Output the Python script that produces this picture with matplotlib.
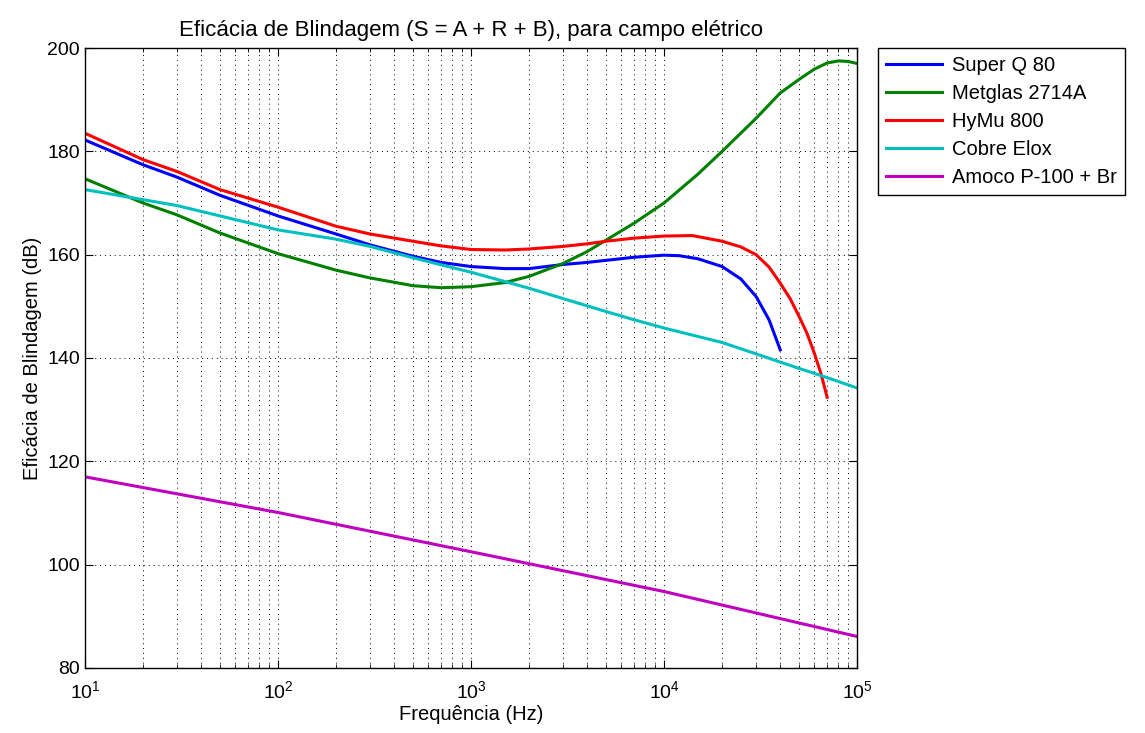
import matplotlib
matplotlib.use('Agg')
import matplotlib.pyplot as plt
from matplotlib.ticker import LogLocator, NullFormatter, MultipleLocator

plt.rcParams['font.family'] = ['Liberation Sans', 'DejaVu Sans']

# frequencias (Hz) e eficacia (dB)
f_superq = [10, 20, 30, 50, 100, 200, 300, 500, 700, 1000, 1500, 2000, 3000, 4000,
            5000, 7000, 10000, 12000, 15000, 20000, 25000, 30000, 35000, 40000]
s_superq = [182.2, 177.4, 175.0, 171.5, 167.5, 164.0, 161.9, 159.7, 158.5, 157.7,
            157.3, 157.3, 158.1, 158.5, 158.9, 159.5, 159.9, 159.8, 159.2, 157.7,
            155.3, 151.9, 147.4, 141.6]

f_metglas = [10, 20, 30, 50, 100, 200, 300, 500, 700, 1000, 1500, 2000, 3000, 4000,
             5000, 7000, 10000, 15000, 20000, 30000, 40000, 50000, 60000, 70000,
             80000, 90000, 100000]
s_metglas = [174.7, 170.0, 167.7, 164.2, 160.2, 157.0, 155.5, 154.0, 153.6, 153.8,
             154.6, 155.8, 158.3, 160.6, 162.8, 166.1, 170.0, 175.6, 180.0, 186.4,
             191.3, 193.9, 195.9, 197.1, 197.5, 197.4, 197.0]

f_hymu = [10, 20, 30, 50, 100, 200, 300, 500, 700, 1000, 1500, 2000, 3000, 4000,
          5000, 7000, 10000, 14000, 20000, 25000, 30000, 35000, 40000, 45000,
          50000, 55000, 60000, 65000, 70000]
s_hymu = [183.5, 178.4, 176.1, 172.6, 169.2, 165.5, 164.0, 162.6, 161.7, 161.0,
          160.9, 161.1, 161.6, 162.1, 162.6, 163.2, 163.6, 163.7, 162.6, 161.5,
          160.0, 157.6, 154.5, 151.5, 148.1, 144.8, 141.0, 137.0, 132.4]

f_cobre = [10, 30, 100, 200, 300, 500, 1000, 2000, 3000, 5000, 7000, 10000,
           20000, 30000, 40000, 70000, 100000]
s_cobre = [172.6, 169.5, 164.8, 163.0, 161.6, 159.4, 156.6, 153.5, 151.5, 149.0,
           147.4, 145.8, 143.0, 140.8, 139.2, 136.2, 134.2]

f_amoco = [10, 100, 1000, 10000, 100000]
s_amoco = [117.0, 110.1, 102.5, 94.8, 86.1]

series = [
    ('Super Q 80', f_superq, s_superq, (0, 0, 1)),
    ('Metglas 2714A', f_metglas, s_metglas, (0, 0.5, 0)),
    ('HyMu 800', f_hymu, s_hymu, (1, 0, 0)),
    ('Cobre Elox', f_cobre, s_cobre, (0, 0.75, 0.75)),
    ('Amoco P-100 + Br', f_amoco, s_amoco, (0.75, 0, 0.75)),
]

fig = plt.figure(figsize=(11.45, 7.33), dpi=100)
ax = fig.add_axes([0.0742, 0.0887, 0.6743, 0.8458])

for nome, f, s, cor in series:
    ax.semilogx(f, s, color=cor, linewidth=2.2, label=nome)

ax.set_xlim(10, 1e5)
ax.set_ylim(80, 200)
ax.yaxis.set_major_locator(MultipleLocator(20))
ax.xaxis.set_major_locator(LogLocator(base=10, numticks=10))
ax.xaxis.set_minor_locator(LogLocator(base=10, subs=range(2, 10), numticks=10))
ax.xaxis.set_minor_formatter(NullFormatter())

ax.grid(True, which='major', color='k', linestyle=(0, (1, 4)), linewidth=0.7)
ax.grid(True, which='minor', axis='x', color='k', linestyle=(0, (1, 4)), linewidth=0.7)

ax.tick_params(which='both', direction='in', top=True, right=True, labelsize=14)
ax.tick_params(axis='x', which='major', pad=9)
ax.tick_params(which='major', length=6)
ax.tick_params(which='minor', length=3)
for sp in ax.spines.values():
    sp.set_linewidth(1.0)

ax.set_title('Eficácia de Blindagem (S = A + R + B), para campo elétrico', fontsize=16, pad=9)
ax.set_xlabel('Frequência (Hz)', fontsize=14.5, labelpad=2)
ax.set_ylabel('Eficácia de Blindagem (dB)', fontsize=14.5)

leg = fig.legend(loc='upper left', bbox_to_anchor=(0.7668, 0.9345), fontsize=14.5,
                 fancybox=False, edgecolor='k', framealpha=1, handlelength=2.8,
                 borderaxespad=0, labelspacing=0.45, handletextpad=0.5)
leg.get_frame().set_linewidth(1.0)

fig.savefig('out.png', dpi=100)
